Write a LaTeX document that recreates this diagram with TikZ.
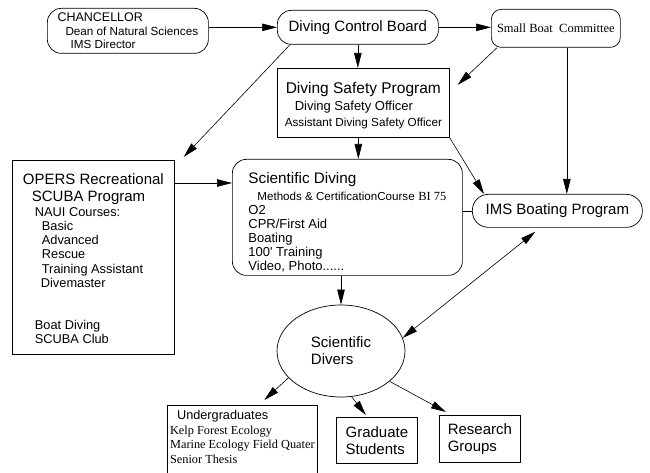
\documentclass[tikz,border=0pt]{standalone}
\usepackage{fontspec}
\setmainfont{Liberation Sans}
\newfontfamily\tmsfont{Liberation Serif}
\usetikzlibrary{
  arrows.meta,
  shapes.geometric
}
% size switch for one line of a node
\newcommand{\fsz}[1]{\fontsize{#1}{#1}\selectfont}

\begin{document}
\begin{tikzpicture}[
  x=1pt, y=-1pt,
  box/.style={draw, line width=0.7pt, align=left, anchor=north west, inner sep=1pt},
  rbox/.style={box, rounded corners=14pt},
  arrow/.style={-{Triangle[length=15pt, width=7.5pt]}, line width=0.6pt},
  darrow/.style={{Triangle[length=15pt, width=7.5pt]}-{Triangle[length=15pt, width=7.5pt]},
    line width=0.6pt},
  link/.style={line width=0.6pt}
]
  \useasboundingbox (0,0) rectangle (650,473);

  % Top row
  \node[rbox, minimum width=161pt, minimum height=45pt,
    font=\fontsize{11.7}{13.2}\selectfont] (chan) at (47,8) {
    \fsz{12.5}CHANCELLOR\\
    \hspace*{8pt}Dean of Natural Sciences\\
    \hspace*{13pt}IMS Director
  };
  \node[rbox, minimum width=161pt, minimum height=34pt, font=\fsz{15}] (dcb)
    at (277,10) {Diving Control Board};
  \node[rbox, rounded corners=10pt, minimum width=129pt, minimum height=38pt,
    font=\tmsfont\fsz{12.5}] (sbc) at (491,9) {Small Boat\ \ Committee};

  % Safety program
  \node[box, minimum width=172pt, minimum height=69pt,
    font=\fontsize{13}{16.5}\selectfont] (dsp) at (277,68) {
    \fsz{15.5}\rule{0pt}{17pt}\hspace*{1pt}Diving Safety Program\\
    \hspace*{10pt}Diving Safety Officer\\
    \fsz{11.7}Assistant Diving Safety Officer
  };

  % OPERS program
  \node[box, minimum width=162pt, minimum height=194pt,
    font=\fontsize{12.8}{14.2}\selectfont] (opers) at (12,160) {
    \fsz{15}\rule{0pt}{14pt}OPERS Recreational\\[2pt]
    \fsz{15}\hspace*{9pt}SCUBA Program\\[1pt]
    \hspace*{12pt}NAUI Courses:\\
    \hspace*{19pt}Basic\\
    \hspace*{19pt}Advanced\\
    \hspace*{19pt}Rescue\\
    \hspace*{19pt}Training Assistant\\
    \hspace*{18pt}Divemaster\\[28pt]
    \hspace*{12pt}Boat Diving\\
    \hspace*{12pt}SCUBA Club
  };

  % Scientific diving
  \node[rbox, minimum width=230pt, minimum height=116pt,
    font=\fontsize{13}{14}\selectfont] (sd) at (232,159) {
    \fsz{15.3}\rule{0pt}{21pt}Scientific Diving\\[3pt]
    \hspace*{9pt}{\fsz{11.6}Methods \& CertificationCourse}\ {\tmsfont\fsz{12.4}BI 75}\hspace*{22pt}\\
    O2\\
    CPR/First Aid\\
    Boating\\
    100\textquotesingle\ Training\\
    Video, Photo......
  };

  \node[rbox, rounded corners=16pt, minimum width=170pt, minimum height=33pt,
    font=\fsz{15}] (ims) at (472,194) {IMS Boating Program};

  % Divers and groups
  \node[draw, ellipse, line width=0.7pt, minimum width=128pt, minimum height=92pt,
    align=left, font=\fontsize{15}{17}\selectfont] (divers) at (341,351)
    {Scientific\\Divers};

  \node[box, minimum width=150pt, font=\tmsfont\fontsize{12.3}{14.7}\selectfont] (ug)
    at (167,405) {
    \normalfont\fsz{12.7}\rule{0pt}{13pt}\hspace*{7pt}Undergraduates\\
    Kelp Forest Ecology\\
    Marine Ecology Field Quater\\
    Senior Thesis\\[34pt]
  };
  \node[box, minimum width=81pt, minimum height=46pt,
    font=\fontsize{15}{17}\selectfont] (grad) at (336,417) {Graduate\\Students};
  \node[box, minimum width=81pt, minimum height=47pt,
    font=\fontsize{15}{17}\selectfont] (res) at (439,415) {Research\\Groups};

  % Arrows
  \draw[arrow] (chan.east |- dcb.west) -- (dcb.west);
  \draw[arrow] (dcb.east) -- (dcb.east -| sbc.west);
  \draw[arrow] (dcb.south) -- (dcb.south |- dsp.north);
  \draw[arrow] ([xshift=13pt]dcb.south west) -- ([xshift=9pt,yshift=3pt]opers.north east);
  \draw[arrow] ([xshift=6pt]sbc.south west) -- ([xshift=8pt,yshift=18pt]dsp.east);
  \draw[arrow] ([xshift=11pt]sbc.south) -- ([xshift=11pt]sbc.south |- ims.north);
  \draw[arrow] ([xshift=-5pt]dsp.south) -- ([xshift=-5pt]dsp.south |- sd.north);
  \draw[arrow] (dsp.south east) -- ([xshift=12pt]ims.north west);
  \draw[arrow] ([yshift=-23pt]opers.north east) -- ([yshift=-23pt]opers.north east -| sd.west);
  \draw[link] (ims.west) -- (ims.west -| sd.east);
  \draw[arrow] (divers.north |- sd.south) -- (divers.north);
  \draw[darrow] (divers.12) -- ([xshift=-22pt,yshift=-4pt]ims.south);
  \draw[arrow] (divers.207) -- ([xshift=22pt,yshift=5pt]ug.north);
  \draw[arrow] (divers.283) -- ([xshift=-11pt,yshift=2pt]grad.north);
  \draw[arrow] (divers.328) -- ([xshift=7pt,yshift=3pt]res.north west);

\end{tikzpicture}
\end{document}
